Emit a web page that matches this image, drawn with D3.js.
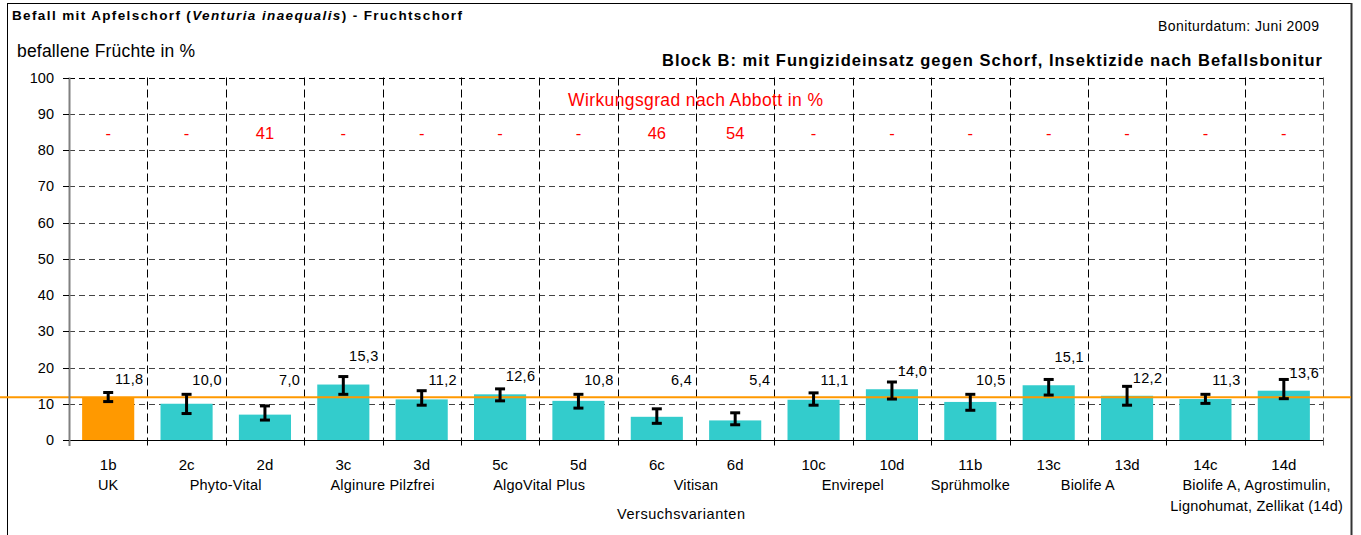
<!DOCTYPE html>
<html><head><meta charset="utf-8">
<script src="https://cdn.jsdelivr.net/npm/d3@7"></script>
<style>body{margin:0;background:#fff}svg{display:block;font-family:"Liberation Sans",Arial,sans-serif}</style>
</head><body>
<svg id="c" width="1361" height="535"></svg>
<script>
const codes = ["1b","2c","2d","3c","3d","5c","5d","6c","6d","10c","10d","11b","13c","13d","14c","14d"];
const values = [11.8,10.0,7.0,15.3,11.2,12.6,10.8,6.4,5.4,11.1,14.0,10.5,15.1,12.2,11.3,13.6];
const errLow = [10.6,7.3,5.5,12.6,9.6,10.8,8.8,4.6,4.2,9.6,11.3,8.2,12.4,9.6,10.1,11.4];
const errHigh = [13.1,12.6,9.4,17.5,13.6,14.1,12.6,8.6,7.5,13.0,16.0,12.6,16.7,14.8,12.6,16.7];
const abbott = ["-","-","41","-","-","-","-","46","54","-","-","-","-","-","-","-"];
const groups = [
  {name:["UK"], from:"1b", to:"1b"},
  {name:["Phyto-Vital"], from:"2c", to:"2d"},
  {name:["Alginure Pilzfrei"], from:"3c", to:"3d"},
  {name:["AlgoVital Plus"], from:"5c", to:"5d"},
  {name:["Vitisan"], from:"6c", to:"6d"},
  {name:["Envirepel"], from:"10c", to:"10d"},
  {name:["Sprühmolke"], from:"11b", to:"11b"},
  {name:["Biolife A"], from:"13c", to:"13d"},
  {name:["Biolife A, Agrostimulin,","Lignohumat, Zellikat (14d)"], from:"14c", to:"14d"}
];
const yTicks = [0,10,20,30,40,50,60,70,80,90,100];
const controlValue = values[0];

const svg = d3.select("#c");
const L = 69, R = 1323, T = 77.5, B = 440;
const x = d3.scaleBand().domain(codes).range([L,R]).paddingInner(0.335).paddingOuter(0.1675);
const y = d3.scaleLinear().domain([0,100]).range([B,T]);
const step = x.step();

// frame
svg.append("line").attr("x1",7.5).attr("x2",7.5).attr("y1",3).attr("y2",535).attr("stroke","#000");
svg.append("line").attr("x1",7).attr("x2",1352).attr("y1",3.5).attr("y2",3.5).attr("stroke","#000");
svg.append("line").attr("x1",1351.5).attr("x2",1351.5).attr("y1",3).attr("y2",535).attr("stroke","#333").attr("stroke-width",2);

// horizontal grid
svg.append("g").selectAll("line").data(yTicks.filter(d=>d>0)).join("line")
  .attr("x1",L).attr("x2",R).attr("y1",d=>Math.round(y(d))+0.5).attr("y2",d=>Math.round(y(d))+0.5)
  .attr("stroke",d=>d===100?"#000":"#444").attr("stroke-dasharray","6,4");
// vertical grid (category boundaries)
const bounds = d3.range(1,codes.length+1).map(i=>L+i*step);
svg.append("g").selectAll("line").data(bounds).join("line")
  .attr("x1",d=>Math.round(d)+0.5).attr("x2",d=>Math.round(d)+0.5).attr("y1",T).attr("y2",B+9)
  .attr("stroke",(d,i)=>i===bounds.length-1?"#555":"#000").attr("stroke-dasharray","8,4");

// bars
svg.append("g").selectAll("rect").data(codes).join("rect")
  .attr("x",d=>x(d)).attr("width",x.bandwidth())
  .attr("y",(d,i)=>y(values[i])).attr("height",(d,i)=>B-y(values[i]))
  .attr("fill",(d,i)=>i===0?"#FF9900":"#33CCCC");

// control reference line
svg.append("line").attr("x1",0).attr("x2",1351).attr("y1",y(controlValue)).attr("y2",y(controlValue))
  .attr("stroke","#FF9900").attr("stroke-width",2);

// error bars
const eb = svg.append("g").attr("stroke","#000").attr("stroke-width",3);
codes.forEach((c,i)=>{
  const cx = x(c)+x.bandwidth()/2;
  eb.append("line").attr("x1",cx).attr("x2",cx).attr("y1",y(errHigh[i])).attr("y2",y(errLow[i]));
  eb.append("line").attr("x1",cx-5).attr("x2",cx+5).attr("y1",y(errHigh[i])).attr("y2",y(errHigh[i]));
  eb.append("line").attr("x1",cx-5).attr("x2",cx+5).attr("y1",y(errLow[i])).attr("y2",y(errLow[i]));
});

// value labels
svg.append("g").selectAll("text").data(codes).join("text")
  .attr("x",d=>x(d)+x.bandwidth()/2+step/2-4)
  .attr("y",(d,i)=>{const v=values[i]; const lv = v>=15 ? v+7.8 : Math.max(v+5,16.5); return y(lv)+5;})
  .attr("text-anchor","end").attr("font-size",14.5).attr("letter-spacing",0.3).attr("fill","#000")
  .text((d,i)=>values[i].toFixed(1).replace(".",","));

// x axis
svg.append("line").attr("x1",L).attr("x2",R).attr("y1",B+0.5).attr("y2",B+0.5).attr("stroke","#000");
// y axis
svg.append("line").attr("x1",L+0.5).attr("x2",L+0.5).attr("y1",T).attr("y2",B+6).attr("stroke","#808080").attr("stroke-width",2);
const yg = svg.append("g");
yg.selectAll("line").data(yTicks).join("line")
  .attr("x1",L-6).attr("x2",L).attr("y1",d=>Math.round(y(d))+0.5).attr("y2",d=>Math.round(y(d))+0.5).attr("stroke","#000");
yg.selectAll("text").data(yTicks).join("text")
  .attr("x",54).attr("y",d=>y(d)+5).attr("text-anchor","end").attr("font-size",14.5).attr("fill","#000").text(d=>d);

// category labels
svg.append("g").selectAll("text").data(codes).join("text")
  .attr("x",d=>x(d)+x.bandwidth()/2).attr("y",470).attr("text-anchor","middle").attr("font-size",15).text(d=>d);
// group labels
const gg = svg.append("g");
groups.forEach((g,gi)=>{
  let cx = (x(g.from)+x(g.to)+x.bandwidth())/2;
  if (g.name.length>1) cx += 12;
  g.name.forEach((line,li)=>{
    gg.append("text").attr("x",cx).attr("y",490+li*21).attr("text-anchor","middle").attr("font-size",14.5).attr("letter-spacing",0.2).text(line);
  });
});
svg.append("text").attr("x",681).attr("y",519).attr("text-anchor","middle").attr("font-size",14.5)
  .attr("textLength",128).attr("lengthAdjust","spacing").text("Versuchsvarianten");

// Abbott row
svg.append("text").attr("x",695.5).attr("y",106).attr("text-anchor","middle").attr("font-size",17.5).attr("fill","#FF0000")
  .attr("textLength",255).attr("lengthAdjust","spacing").text("Wirkungsgrad nach Abbott in %");
svg.append("g").selectAll("text").data(codes).join("text")
  .attr("x",d=>x(d)+x.bandwidth()/2).attr("y",139).attr("text-anchor","middle").attr("font-size",16.5).attr("fill","#FF0000")
  .text((d,i)=>abbott[i]);

// titles
const t = svg.append("text").attr("x",12).attr("y",20).attr("font-size",13.5).attr("font-weight","bold")
  .attr("textLength",450).attr("lengthAdjust","spacing");
t.append("tspan").text("Befall mit Apfelschorf (");
t.append("tspan").attr("font-style","italic").text("Venturia inaequalis");
t.append("tspan").text(") - Fruchtschorf");
svg.append("text").attr("x",1158).attr("y",31).attr("font-size",14)
  .attr("textLength",161).attr("lengthAdjust","spacing").text("Boniturdatum: Juni 2009");
svg.append("text").attr("x",17).attr("y",57).attr("font-size",17.5)
  .attr("textLength",178).attr("lengthAdjust","spacing").text("befallene Früchte in %");
svg.append("text").attr("x",662).attr("y",66).attr("font-size",16.5).attr("font-weight","bold")
  .attr("textLength",660).attr("lengthAdjust","spacing")
  .text("Block B: mit Fungizideinsatz gegen Schorf, Insektizide nach Befallsbonitur");
</script>
</body></html>
